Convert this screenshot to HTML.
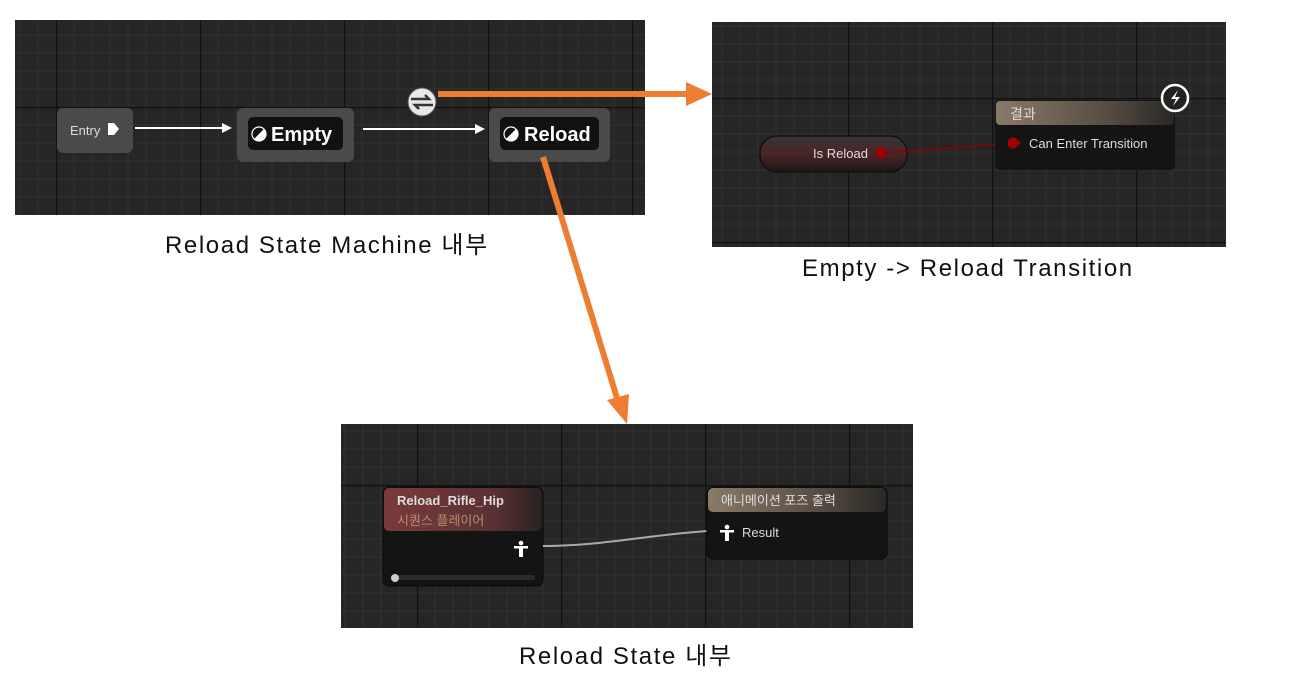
<!DOCTYPE html>
<html><head><meta charset="utf-8"><style>
body{margin:0;background:#fff;width:1289px;height:680px;overflow:hidden;position:relative;font-family:"Liberation Sans","Noto Sans CJK KR",sans-serif}
.cap{position:absolute;font-size:24px;letter-spacing:1.6px;color:#111;white-space:nowrap;font-family:"Liberation Sans","Noto Sans CJK KR",sans-serif}
svg text{font-family:"Liberation Sans","Noto Sans CJK KR",sans-serif}
</style></head><body>
<svg width="1289" height="680" style="position:absolute;left:0;top:0">
<defs>
<pattern id="g1" x="56" y="107" width="144" height="144" patternUnits="userSpaceOnUse">
<rect width="144" height="144" fill="#262626"/>
<path d="M18 0V144M36 0V144M54 0V144M72 0V144M90 0V144M108 0V144M126 0V144M0 18H144M0 36H144M0 54H144M0 72H144M0 90H144M0 108H144M0 126H144" stroke="#323232" stroke-width="1"/>
<path d="M0.5 0V144M0 0.5H144" stroke="#111" stroke-width="1.5"/>
</pattern>
<pattern id="g2" x="848" y="98" width="144" height="144" patternUnits="userSpaceOnUse">
<rect width="144" height="144" fill="#262626"/>
<path d="M18 0V144M36 0V144M54 0V144M72 0V144M90 0V144M108 0V144M126 0V144M0 18H144M0 36H144M0 54H144M0 72H144M0 90H144M0 108H144M0 126H144" stroke="#323232" stroke-width="1"/>
<path d="M0.5 0V144M0 0.5H144" stroke="#111" stroke-width="1.5"/>
</pattern>
<pattern id="g3" x="705" y="485" width="144" height="144" patternUnits="userSpaceOnUse">
<rect width="144" height="144" fill="#262626"/>
<path d="M18 0V144M36 0V144M54 0V144M72 0V144M90 0V144M108 0V144M126 0V144M0 18H144M0 36H144M0 54H144M0 72H144M0 90H144M0 108H144M0 126H144" stroke="#323232" stroke-width="1"/>
<path d="M0.5 0V144M0 0.5H144" stroke="#111" stroke-width="1.5"/>
</pattern>
<linearGradient id="hb" x1="0" x2="1"><stop offset="0" stop-color="#8a7a68"/><stop offset="0.6" stop-color="#5a4e44"/><stop offset="1" stop-color="#2a2826"/></linearGradient>
<linearGradient id="hr" x1="0" x2="1"><stop offset="0" stop-color="#7a3a3c"/><stop offset="0.7" stop-color="#5a3032"/><stop offset="1" stop-color="#2a2222"/></linearGradient>
<linearGradient id="pr" x1="0" y1="0" x2="0" y2="1"><stop offset="0" stop-color="#3a3434"/><stop offset="0.5" stop-color="#4a2426"/><stop offset="1" stop-color="#1a1818"/></linearGradient>
</defs>

<!-- Panel 1 -->
<rect x="15" y="20" width="630" height="195" fill="url(#g1)"/>
<rect x="57" y="108" width="76" height="45" rx="6" fill="#4a4a4a"/>
<text x="70" y="135" fill="#ddd" font-size="13">Entry</text>
<path d="M108 123h6l5 6-5 6h-6z" fill="#fff"/>
<line x1="135" y1="128" x2="224" y2="128" stroke="#fff" stroke-width="2"/>
<path d="M232 128l-10-5v10z" fill="#fff"/>
<rect x="237" y="108" width="117" height="54" rx="6" fill="#4a4a4a"/>
<rect x="248" y="117" width="95" height="33" rx="5" fill="#111"/>
<circle cx="259" cy="134" r="7" fill="#111" stroke="#fff" stroke-width="1.2"/><path d="M264 129a7 7 0 0 1-10 10z" fill="#fff"/>
<text x="271" y="141" fill="#fff" font-size="20" font-weight="bold">Empty</text>
<line x1="363" y1="129" x2="477" y2="129" stroke="#fff" stroke-width="2"/>
<path d="M485 129l-10-5v10z" fill="#fff"/>
<rect x="489" y="108" width="121" height="54" rx="6" fill="#4a4a4a"/>
<rect x="500" y="117" width="99" height="33" rx="5" fill="#111"/>
<circle cx="511" cy="134" r="7" fill="#111" stroke="#fff" stroke-width="1.2"/><path d="M516 129a7 7 0 0 1-10 10z" fill="#fff"/>
<text x="524" y="141" fill="#fff" font-size="20" font-weight="bold">Reload</text>
<circle cx="422" cy="102" r="14" fill="#e8e8e8" stroke="#555" stroke-width="1"/>
<path d="M411 99h18l-4-4M433 105h-18l4 4" stroke="#333" stroke-width="2.5" fill="none"/>

<!-- Panel 2 -->
<rect x="712" y="22" width="514" height="225" fill="url(#g2)"/>
<rect x="760" y="136" width="147" height="36" rx="17" fill="url(#pr)" stroke="#111" stroke-width="1.5"/>
<text x="813" y="158" fill="#ddd" font-size="13">Is Reload</text>
<path d="M881 153L1012 143" stroke="#8a0000" stroke-width="1.5"/>
<circle cx="881" cy="153" r="5.5" fill="#a00000"/>
<rect x="995" y="100" width="180" height="70" rx="5" fill="#141414"/>
<rect x="996" y="101" width="178" height="24" rx="4" fill="url(#hb)"/>
<text x="1010" y="119" fill="#ddd" font-size="14">결과</text>
<circle cx="1013" cy="143" r="5.5" fill="#a00000"/><path d="M1018 140l3 3-3 3z" fill="#a00000"/>
<text x="1029" y="148" fill="#ddd" font-size="13">Can Enter Transition</text>
<circle cx="1175" cy="98" r="13" fill="#222" stroke="#fff" stroke-width="2.5"/>
<path d="M1178 90l-7 9h5l-3 7 7-9h-5z" fill="#fff"/>

<!-- Panel 3 -->
<rect x="341" y="424" width="572" height="204" fill="url(#g3)"/>
<rect x="383" y="487" width="160" height="99" rx="6" fill="#141414" stroke="#0a0a0a"/>
<rect x="384" y="488" width="158" height="43" rx="5" fill="url(#hr)"/>
<text x="397" y="505" fill="#ddd" font-size="13" font-weight="bold">Reload_Rifle_Hip</text>
<text x="397" y="525" fill="#b09070" font-size="13">시퀀스 플레이어</text>
<rect x="392" y="575" width="143" height="5" rx="2" fill="#2a2a2a"/>
<circle cx="395" cy="578" r="4" fill="#ccc"/>
<g fill="#fff"><circle cx="521" cy="543" r="2.3"/><rect x="514" y="546" width="14" height="2.5"/><rect x="519" y="546" width="4" height="11"/></g>
<path d="M543 546C600 546 640 536 707 531" stroke="#aaa" stroke-width="2" fill="none"/>
<rect x="707" y="487" width="180" height="72" rx="6" fill="#141414" stroke="#0a0a0a"/>
<rect x="708" y="488" width="178" height="24" rx="5" fill="url(#hb)"/>
<text x="721" y="505" fill="#ddd" font-size="13">애니메이션 포즈 출력</text>
<g fill="#fff"><circle cx="727" cy="527" r="2.3"/><rect x="720" y="530" width="14" height="2.5"/><rect x="725" y="530" width="4" height="11"/></g>
<text x="742" y="537" fill="#ddd" font-size="13">Result</text>

<!-- Orange arrows -->
<line x1="438" y1="94" x2="688" y2="94" stroke="#ed7d31" stroke-width="6"/>
<path d="M712 94l-26-12v24z" fill="#ed7d31"/>
<line x1="543" y1="157" x2="617" y2="398" stroke="#ed7d31" stroke-width="6"/>
<path d="M627 424l-20-24 22-6z" fill="#ed7d31"/>
</svg>
<div class="cap" style="left:165px;top:225px">Reload State Machine 내부</div>
<div class="cap" style="left:802px;top:255px">Empty -&gt; Reload Transition</div>
<div class="cap" style="left:519px;top:636px">Reload State 내부</div>
</body></html>
